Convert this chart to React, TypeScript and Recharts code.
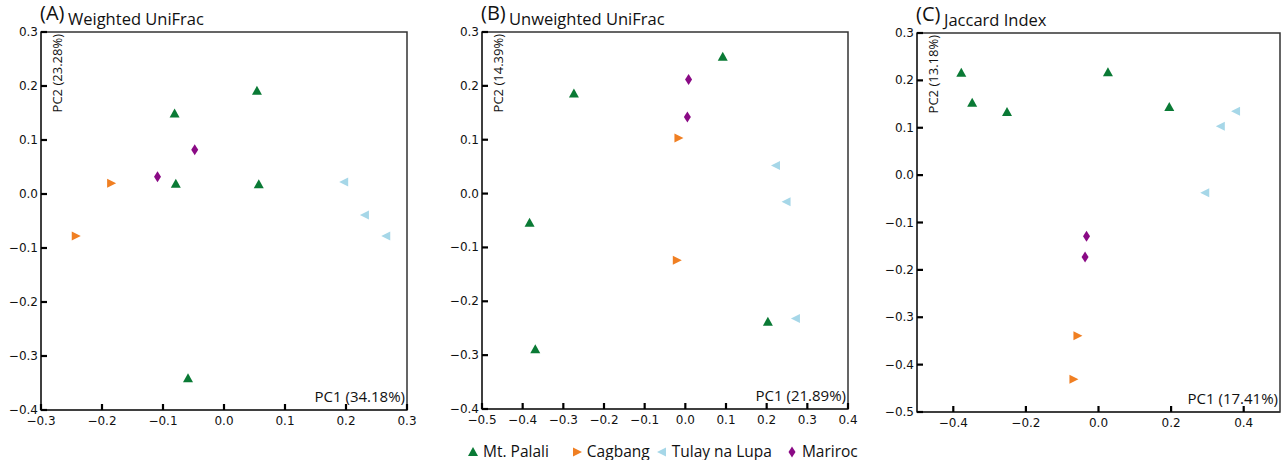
import React from 'react';
import { ScatterChart, Scatter, XAxis, YAxis, ReferenceArea, Label } from 'recharts';

// group names and colours
const groups = ['Mt. Palali', 'Cagbang', 'Tulay na Lupa', 'Mariroc'];
const colors = ['#0a7a35', '#f07f22', '#a6d7e8', '#8a0a85'];

// (A) Weighted UniFrac
const weightedPalali = [
  { x: 0.054, y: 0.191 }, { x: -0.081, y: 0.149 }, { x: -0.079, y: 0.019 },
  { x: 0.057, y: 0.018 }, { x: -0.059, y: -0.341 },
];
const weightedCagbang = [{ x: -0.185, y: 0.02 }, { x: -0.243, y: -0.078 }];
const weightedTulay = [{ x: 0.197, y: 0.022 }, { x: 0.231, y: -0.039 }, { x: 0.266, y: -0.078 }];
const weightedMariroc = [{ x: -0.048, y: 0.082 }, { x: -0.109, y: 0.032 }];

// (B) Unweighted UniFrac
const unweightedPalali = [
  { x: 0.092, y: 0.254 }, { x: -0.274, y: 0.186 }, { x: -0.383, y: -0.054 },
  { x: 0.203, y: -0.238 }, { x: -0.369, y: -0.289 },
];
const unweightedCagbang = [{ x: -0.017, y: 0.103 }, { x: -0.021, y: -0.124 }];
const unweightedTulay = [{ x: 0.223, y: 0.052 }, { x: 0.249, y: -0.015 }, { x: 0.272, y: -0.232 }];
const unweightedMariroc = [{ x: 0.008, y: 0.212 }, { x: 0.005, y: 0.142 }];

// (C) Jaccard Index
const jaccardPalali = [
  { x: -0.378, y: 0.216 }, { x: -0.348, y: 0.153 }, { x: -0.252, y: 0.133 },
  { x: 0.026, y: 0.217 }, { x: 0.195, y: 0.144 },
];
const jaccardCagbang = [{ x: -0.058, y: -0.339 }, { x: -0.069, y: -0.431 }];
const jaccardTulay = [{ x: 0.379, y: 0.135 }, { x: 0.337, y: 0.103 }, { x: 0.294, y: -0.037 }];
const jaccardMariroc = [{ x: -0.033, y: -0.129 }, { x: -0.037, y: -0.173 }];

// axis ticks
const ticksA_x = [-0.3, -0.2, -0.1, 0, 0.1, 0.2, 0.3];
const ticksA_y = [-0.4, -0.3, -0.2, -0.1, 0, 0.1, 0.2, 0.3];
const ticksB_x = [-0.5, -0.4, -0.3, -0.2, -0.1, 0, 0.1, 0.2, 0.3, 0.4];
const ticksB_y = [-0.4, -0.3, -0.2, -0.1, 0, 0.1, 0.2, 0.3];
const ticksC_x = [-0.4, -0.2, 0, 0.2, 0.4];
const ticksC_y = [-0.5, -0.4, -0.3, -0.2, -0.1, 0, 0.1, 0.2, 0.3];

const tickFont = '"DejaVu Sans", sans-serif';
const textFont = '"Open Sans", sans-serif';

const fmt = (v: number) => (Math.abs(v) < 1e-9 ? '0.0' : v.toFixed(1).replace('-', '\u2212'));

// inward tick stubs + labels outside
const BottomTick = (p: any) => (
  <g>
    <path d={`M${p.x},${p.y}V${p.y - 6}`} stroke="#000" strokeWidth={2.2} fill="none" />
    <text x={p.x} y={p.y + 15} textAnchor="middle" fontFamily={tickFont} fontSize={12} fill="#111">
      {fmt(p.payload.value)}
    </text>
  </g>
);

const LeftTick = (p: any) => (
  <g>
    <path d={`M${p.x},${p.y}H${p.x + 6}`} stroke="#000" strokeWidth={2.2} fill="none" />
    <text x={p.x - 3} y={p.y + 4} textAnchor="end" fontFamily={tickFont} fontSize={12} fill="#111">
      {fmt(p.payload.value)}
    </text>
  </g>
);

// marker shapes
const TriUp = (p: any) => (
  <polygon points={`${p.cx},${p.cy - 5} ${p.cx + 5},${p.cy + 4} ${p.cx - 5},${p.cy + 4}`} fill={p.fill} />
);
const TriRight = (p: any) => (
  <polygon points={`${p.cx + 5},${p.cy} ${p.cx - 4},${p.cy - 4.5} ${p.cx - 4},${p.cy + 4.5}`} fill={p.fill} />
);
const TriLeft = (p: any) => (
  <polygon points={`${p.cx - 5},${p.cy} ${p.cx + 4},${p.cy - 4.5} ${p.cx + 4},${p.cy + 4.5}`} fill={p.fill} />
);
const Diamond = (p: any) => (
  <polygon points={`${p.cx},${p.cy - 5.5} ${p.cx + 3.5},${p.cy} ${p.cx},${p.cy + 5.5} ${p.cx - 3.5},${p.cy}`} fill={p.fill} />
);
const shapes = [TriUp, TriRight, TriLeft, Diamond];

interface PanelProps {
  left: number;
  width: number;
  yAxisWidth: number;
  marginRight: number;
  marginTop: number;
  xAxisHeight: number;
  xDomain: [number, number];
  yDomain: [number, number];
  xTicks: number[];
  yTicks: number[];
  tag: string;
  title: string;
  pc1: string;
  pc2: string;
  series: Array<Array<{ x: number; y: number }>>;
}

const Panel = (props: PanelProps) => {
  const frameLabels = ({ viewBox }: any) => {
    const { x, y, width, height } = viewBox;
    return (
      <g>
        <text x={x - 1} y={y - 12} fontFamily={textFont} fontSize={20} fill="#111">{props.tag}</text>
        <text x={x + 27} y={y - 7} fontFamily={textFont} fontSize={16.5} fill="#111">{props.title}</text>
        <text
          transform={`translate(${x + 21}, ${y + 2}) rotate(-90)`}
          textAnchor="end"
          fontFamily={textFont}
          fontSize={13}
          fill="#111"
        >
          {props.pc2}
        </text>
        <text x={x + width - 2} y={y + height - 8} textAnchor="end" fontFamily={textFont} fontSize={15} fill="#111">
          {props.pc1}
        </text>
      </g>
    );
  };

  return (
    <div style={{ position: 'absolute', left: props.left, top: 0 }}>
      <ScatterChart
        width={props.width}
        height={460}
        margin={{ top: props.marginTop, right: props.marginRight, bottom: 0, left: 0 }}
      >
        <XAxis
          type="number"
          dataKey="x"
          domain={props.xDomain}
          ticks={props.xTicks}
          allowDataOverflow
          height={props.xAxisHeight}
          tickSize={0}
          tickMargin={0}
          tickLine={false}
          axisLine={{ stroke: '#333', strokeWidth: 1.5 }}
          tick={BottomTick}
          interval={0}
        />
        <YAxis
          type="number"
          dataKey="y"
          domain={props.yDomain}
          ticks={props.yTicks}
          allowDataOverflow
          width={props.yAxisWidth}
          tickSize={0}
          tickMargin={0}
          tickLine={false}
          axisLine={{ stroke: '#333', strokeWidth: 1.5 }}
          tick={LeftTick}
          interval={0}
        />
        <ReferenceArea
          x1={props.xDomain[0]}
          x2={props.xDomain[1]}
          y1={props.yDomain[0]}
          y2={props.yDomain[1]}
          fill="none"
          stroke="#333"
          strokeWidth={1.5}
          fillOpacity={0}
        >
          <Label content={frameLabels} />
        </ReferenceArea>
        {props.series.map((data, i) => (
          <Scatter
            key={groups[i]}
            name={groups[i]}
            data={data}
            fill={colors[i]}
            shape={shapes[i]}
            isAnimationActive={false}
          />
        ))}
      </ScatterChart>
    </div>
  );
};

const LegendIcon = ({ i }: { i: number }) => {
  const Shape = shapes[i];
  return (
    <svg width={12} height={14} style={{ marginRight: 4 }}>
      <Shape cx={6} cy={8} fill={colors[i]} />
    </svg>
  );
};

const legendGaps = [22, 6, 14, 0];

export default function App() {
  return (
    <div style={{ position: 'absolute', left: 0, top: 0, width: 1283, height: 460, background: '#fff' }}>
      <Panel
        left={0}
        width={420}
        yAxisWidth={41}
        marginRight={13}
        marginTop={32}
        xAxisHeight={50}
        xDomain={[-0.3, 0.3]}
        yDomain={[-0.4, 0.3]}
        xTicks={ticksA_x}
        yTicks={ticksA_y}
        tag="(A)"
        title="Weighted UniFrac"
        pc1="PC1 (34.18%)"
        pc2="PC2 (23.28%)"
        series={[weightedPalali, weightedCagbang, weightedTulay, weightedMariroc]}
      />
      <Panel
        left={430}
        width={430}
        yAxisWidth={52}
        marginRight={12}
        marginTop={32}
        xAxisHeight={51}
        xDomain={[-0.5, 0.4]}
        yDomain={[-0.4, 0.3]}
        xTicks={ticksB_x}
        yTicks={ticksB_y}
        tag="(B)"
        title="Unweighted UniFrac"
        pc1="PC1 (21.89%)"
        pc2="PC2 (14.39%)"
        series={[unweightedPalali, unweightedCagbang, unweightedTulay, unweightedMariroc]}
      />
      <Panel
        left={860}
        width={423}
        yAxisWidth={57}
        marginRight={3}
        marginTop={33}
        xAxisHeight={48}
        xDomain={[-0.5, 0.5]}
        yDomain={[-0.5, 0.3]}
        xTicks={ticksC_x}
        yTicks={ticksC_y}
        tag="(C)"
        title="Jaccard Index"
        pc1="PC1 (17.41%)"
        pc2="PC2 (13.18%)"
        series={[jaccardPalali, jaccardCagbang, jaccardTulay, jaccardMariroc]}
      />
      <div
        style={{
          position: 'absolute',
          left: 467,
          top: 440,
          display: 'flex',
          alignItems: 'center',
          fontFamily: textFont,
          fontSize: 15.5,
          color: '#111',
          whiteSpace: 'nowrap',
        }}
      >
        {groups.map((g, i) => (
          <div key={g} style={{ display: 'flex', alignItems: 'center', marginRight: legendGaps[i] }}>
            <LegendIcon i={i} />
            <span>{g}</span>
          </div>
        ))}
      </div>
    </div>
  );
}
